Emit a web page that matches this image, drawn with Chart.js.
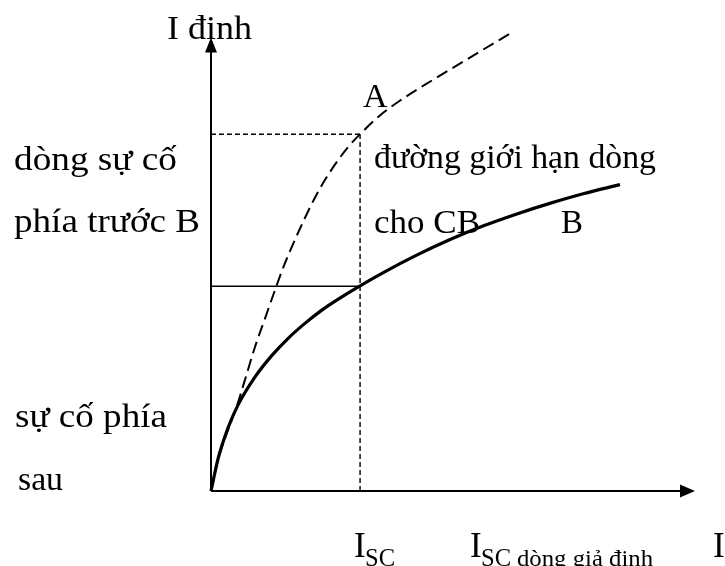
<!DOCTYPE html>
<html>
<head>
<meta charset="utf-8">
<script src="https://cdn.jsdelivr.net/npm/chart.js@4"></script>
<style>
  html, body { margin: 0; padding: 0; background: #fff; }
  #wrap { width: 725px; height: 566px; }
</style>
</head>
<body>
<div id="wrap"><canvas id="grafico" width="725" height="566"></canvas></div>
<script>
// duong A (net dut) - dong su co du kien
var curveAX = [0, 0.15, 0.36, 0.53, 0.70, 0.91, 1.12, 1.36, 1.53, 1.74, 1.94, 2.15, 2.36, 2.63, 2.84, 3.08, 3.49, 3.90, 4.59, 5.28, 6.18];
var curveAY = [0, 0.70, 1.36, 1.84, 2.42, 3.15, 3.78, 4.50, 4.98, 5.50, 5.96, 6.41, 6.80, 7.23, 7.52, 7.79, 8.20, 8.52, 8.98, 9.42, 9.99];
// duong B (net lien) - gioi han dong cho CB
var curveBX = [0, 0.15, 0.36, 0.56, 0.91, 1.25, 1.60, 1.94, 2.29, 2.63, 3.08, 3.56, 4.25, 4.94, 5.63, 6.32, 7.00, 7.69, 8.45];
var curveBY = [0, 0.72, 1.40, 1.88, 2.49, 2.95, 3.34, 3.66, 3.95, 4.19, 4.48, 4.77, 5.15, 5.49, 5.79, 6.05, 6.28, 6.49, 6.69];
// diem Isc
var iscX = 3.08;
var iscA = 7.79;
var iscB = 4.47;
var xMax = 10;
var yMax = 10;
var yArrow = 9.9;

function toPts(xs, ys) {
  return xs.map(function (v, i) { return { x: v, y: ys[i] }; });
}

var FONT = '"Liberation Serif", "Times New Roman", serif';

// ve chu, keo gian ngang cho vua be rong
function veChu(ctx, txt, x, y, size, w) {
  ctx.font = size + 'px ' + FONT;
  var m = ctx.measureText(txt).width;
  ctx.save();
  ctx.translate(x, y);
  if (w) ctx.scale(w / m, 1);
  ctx.fillText(txt, 0, 0);
  ctx.restore();
}

var khungPlugin = {
  id: 'khung',
  afterDatasetsDraw: function (chart) {
    var ctx = chart.ctx;
    var sx = chart.scales.x, sy = chart.scales.y;
    var x0 = sx.getPixelForValue(0), y0 = sy.getPixelForValue(0);
    var xe = sx.getPixelForValue(xMax), ye = sy.getPixelForValue(yArrow);
    ctx.save();
    ctx.strokeStyle = '#000';
    ctx.fillStyle = '#000';
    ctx.lineWidth = 2;
    ctx.beginPath();
    ctx.moveTo(x0, y0); ctx.lineTo(xe - 10, y0);
    ctx.moveTo(x0, y0); ctx.lineTo(x0, ye + 10);
    ctx.stroke();
    // mui ten
    ctx.beginPath();
    ctx.moveTo(xe, y0); ctx.lineTo(xe - 15, y0 - 6.5); ctx.lineTo(xe - 15, y0 + 6.5); ctx.closePath();
    ctx.fill();
    ctx.beginPath();
    ctx.moveTo(x0, ye); ctx.lineTo(x0 - 6, ye + 15); ctx.lineTo(x0 + 6, ye + 15); ctx.closePath();
    ctx.fill();

    // chu
    ctx.textBaseline = 'alphabetic';
    ctx.textAlign = 'left';
    veChu(ctx, 'I định', 167, 39, 33, 85);
    veChu(ctx, 'A', 363, 107, 34, 0);
    veChu(ctx, 'dòng sự cố', 14, 170, 33, 163);
    veChu(ctx, 'phía trước B', 14, 232, 33, 186);
    veChu(ctx, 'đường giới hạn dòng', 374, 168, 33, 282);
    veChu(ctx, 'cho CB', 374, 233, 33, 106);
    veChu(ctx, 'B', 561, 233, 33, 0);
    veChu(ctx, 'sự cố phía', 15, 427, 33, 152);
    veChu(ctx, 'sau', 18, 490, 33, 45);

    var xi = sx.getPixelForValue(iscX);
    veChu(ctx, 'I', xi - 6, 557, 35, 0);
    veChu(ctx, 'I', 470, 557, 35, 0);
    veChu(ctx, 'I', 713, 557, 35, 0);
    veChu(ctx, 'SC', xi + 5, 566, 25, 30);
    veChu(ctx, 'SC', 481, 566, 25, 30);
    veChu(ctx, 'dòng giả định', 517, 566, 23, 136);
    ctx.restore();
  }
};

var ctx = document.getElementById('grafico').getContext('2d');
var chart = new Chart(ctx, {
  type: 'scatter',
  data: {
    datasets: [{
      label: 'A',
      data: toPts(curveAX, curveAY),
      showLine: true,
      borderColor: '#000',
      borderWidth: 2,
      borderDash: [12, 6],
      cubicInterpolationMode: 'monotone',
      pointRadius: 0,
      clip: false
    }, {
      label: 'B',
      data: toPts(curveBX, curveBY),
      showLine: true,
      borderColor: '#000',
      borderWidth: 3.2,
      cubicInterpolationMode: 'monotone',
      pointRadius: 0,
      clip: false
    }, {
      label: 'Isc doc',
      data: [{ x: iscX, y: 0 }, { x: iscX, y: iscA }],
      showLine: true,
      borderColor: '#000',
      borderWidth: 1.4,
      borderDash: [5, 3],
      pointRadius: 0
    }, {
      label: 'A ngang',
      data: [{ x: 0, y: iscA }, { x: iscX, y: iscA }],
      showLine: true,
      borderColor: '#000',
      borderWidth: 1.4,
      borderDash: [5, 3],
      pointRadius: 0
    }, {
      label: 'B ngang',
      data: [{ x: 0, y: iscB }, { x: iscX, y: iscB }],
      showLine: true,
      borderColor: '#000',
      borderWidth: 1.5,
      pointRadius: 0
    }]
  },
  plugins: [khungPlugin],
  options: {
    responsive: false,
    animation: false,
    devicePixelRatio: 1,
    layout: { padding: { left: 211, right: 30, top: 33, bottom: 75 } },
    plugins: { legend: { display: false }, tooltip: { enabled: false } },
    scales: {
      x: { type: 'linear', min: 0, max: xMax, display: false },
      y: { type: 'linear', min: 0, max: yMax, display: false }
    }
  }
});
</script>
</body>
</html>
